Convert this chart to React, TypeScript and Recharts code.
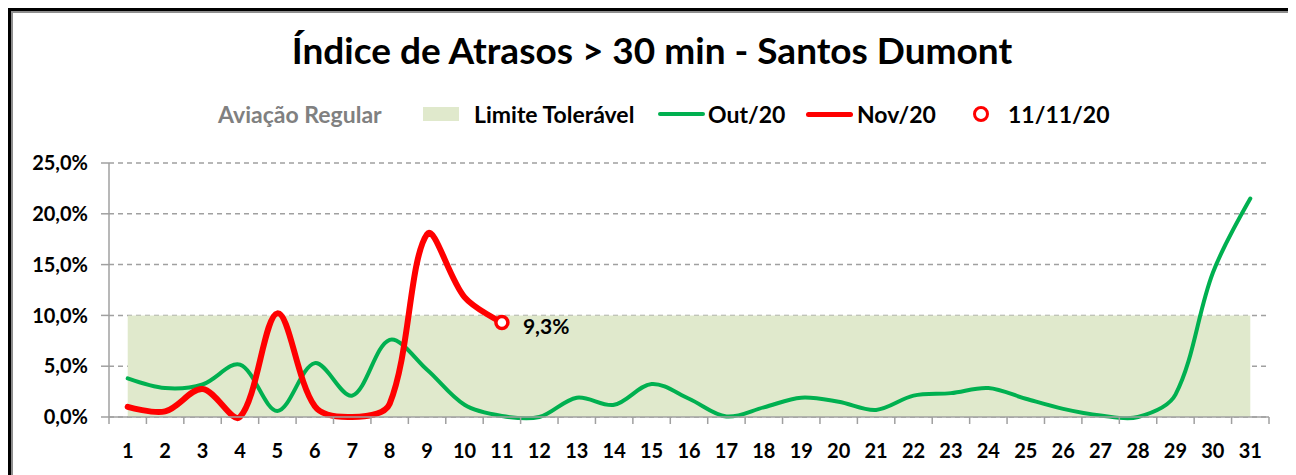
import { ComposedChart, Area, Line, XAxis, YAxis, CartesianGrid, LabelList } from 'recharts'

const days = ['1', '2', '3', '4', '5', '6', '7', '8', '9', '10', '11', '12', '13', '14', '15', '16', '17', '18', '19', '20', '21', '22', '23', '24', '25', '26', '27', '28', '29', '30', '31']
const out20 = [3.8, 2.85, 3.2, 5.15, 0.6, 5.3, 2.1, 7.6, 4.65, 1.2, 0.1, 0, 1.9, 1.2, 3.25, 1.8, 0.05, 0.95, 1.9, 1.5, 0.7, 2.1, 2.35, 2.85, 1.8, 0.8, 0.15, 0, 2.2, 14.2, 21.5]
const nov20 = [1.0, 0.55, 2.75, 0, 10.2, 1.05, 0, 1.3, 18.0, 11.8, 9.3]
const limiteToleravel = 10
const destaqueDia = 11
const destaqueValor = 9.3
const yTicks = [0, 5, 10, 15, 20, 25]

const FONT = 'Lato, sans-serif'
const GREEN = '#00B050'
const RED = '#FF0000'
const LIMIT_FILL = '#E0E9CC'
const AXIS = '#A0A0A0'

const data = days.map((d, i) => ({
  dia: d,
  limite: limiteToleravel,
  out: out20[i] ?? null,
  nov: nov20[i] ?? null,
  destaque: Number(d) === destaqueDia ? destaqueValor : null,
}))

const pct = (v: number) => `${v.toFixed(1).replace('.', ',')}%`

// smoothing close to Excel's: bezier through every point,
// handle length scaled by the neighbouring segment lengths
const excelCurve = (context: any) => {
  let pts: number[][] = []
  const dist = (a: number[], b: number[]) => Math.hypot(b[0] - a[0], b[1] - a[1]) || 1e-6
  return {
    areaStart() {},
    areaEnd() {},
    lineStart() { pts = [] },
    point(x: number, y: number) { pts.push([+x, +y]) },
    lineEnd() {
      if (!pts.length) return
      context.moveTo(pts[0][0], pts[0][1])
      for (let i = 0; i < pts.length - 1; i++) {
        const p0 = pts[i - 1] || pts[i]
        const p1 = pts[i]
        const p2 = pts[i + 1]
        const p3 = pts[i + 2] || p2
        const d01 = dist(p0, p1)
        const d12 = dist(p1, p2)
        const d23 = dist(p2, p3)
        const a = pts[i - 1] ? d12 / (d01 + d12) / 3 : 0
        const b = pts[i + 2] ? d12 / (d12 + d23) / 3 : 0
        context.bezierCurveTo(
          p1[0] + (p2[0] - p0[0]) * a, p1[1] + (p2[1] - p0[1]) * a,
          p2[0] - (p3[0] - p1[0]) * b, p2[1] - (p3[1] - p1[1]) * b,
          p2[0], p2[1],
        )
      }
    },
  }
}

function DayTick({ x, y, payload, index }: any) {
  const half = payload?.offset ?? 18.7
  return (
    <g>
      <line x1={x - half} x2={x - half} y1={y} y2={y + 7} stroke={AXIS} strokeWidth={1.5} />
      {index === days.length - 1 && (
        <line x1={x + half} x2={x + half} y1={y} y2={y + 7} stroke={AXIS} strokeWidth={1.5} />
      )}
      <text x={x} y={y + 33} textAnchor="middle" dominantBaseline="central"
        style={{ fontFamily: FONT, fontSize: 20, fontWeight: 700, fill: '#000' }}>
        {payload.value}
      </text>
    </g>
  )
}

function PointLabel({ x, y, value }: any) {
  if (value == null) return null
  return (
    <text x={x + 21} y={y + 3} dominantBaseline="central"
      style={{ fontFamily: FONT, fontSize: 21, fontWeight: 700, fill: '#000' }}>
      {pct(value)}
    </text>
  )
}

function LegendRow() {
  const txt = { fontFamily: FONT, fontSize: 23, fontWeight: 700, color: '#000', whiteSpace: 'nowrap' as const }
  const item = (left: number, child: any) => (
    <div style={{ position: 'absolute', left, top: 0, height: 24, display: 'flex', alignItems: 'center' }}>{child}</div>
  )
  return (
    <div style={{ position: 'absolute', top: 91, left: 0, width: '100%', height: 24 }}>
      {item(207, <span style={{ ...txt, color: '#808080' }}>Aviação Regular</span>)}
      {item(412, <span style={{ display: 'block', width: 36, height: 14, background: LIMIT_FILL }} />)}
      {item(463, <span style={txt}>Limite Tolerável</span>)}
      {item(647, <span style={{ display: 'block', width: 47, height: 4, borderRadius: 2, background: GREEN }} />)}
      {item(697, <span style={txt}>Out/20</span>)}
      {item(795, <span style={{ display: 'block', width: 47, height: 5, borderRadius: 3, background: RED }} />)}
      {item(846, <span style={txt}>Nov/20</span>)}
      {item(962, <span style={{ display: 'block', width: 10, height: 10, borderRadius: '50%', border: `3.5px solid ${RED}`, background: '#fff' }} />)}
      {item(997, <span style={txt}>11/11/20</span>)}
    </div>
  )
}

export default function App() {
  return (
    <div style={{
      position: 'relative',
      width: 1288,
      height: 475,
      boxSizing: 'border-box',
      border: '3px solid #000',
      boxShadow: 'inset 0 0 0 2px #8E8E8E',
      background: '#fff',
      overflow: 'hidden',
    }}>
      <div style={{
        position: 'absolute', top: 20, left: 0, width: '100%', textAlign: 'center',
        fontFamily: FONT, fontSize: 37, fontWeight: 700, lineHeight: 1, color: '#000',
      }}>
        Índice de Atrasos &gt; 30 min - Santos Dumont
      </div>
      <LegendRow />
      <ComposedChart width={1282} height={464} data={data} margin={{ top: 152, right: 24, left: 0, bottom: 28 }}>
        <Area dataKey="limite" type="linear" stroke="none" fill={LIMIT_FILL} fillOpacity={1} isAnimationActive={false} />
        <CartesianGrid vertical={false} stroke={AXIS} strokeWidth={1.5} strokeDasharray="5 4" />
        <XAxis dataKey="dia" scale="band" height={30} tickSize={0} tickMargin={0} tickLine={false}
          axisLine={{ stroke: AXIS, strokeWidth: 1.5 }} tick={<DayTick />} interval={0} />
        <YAxis width={98} domain={[0, 25]} ticks={yTicks} tickFormatter={pct} tickSize={8} tickMargin={13}
          axisLine={{ stroke: AXIS, strokeWidth: 1.5 }} tickLine={{ stroke: AXIS, strokeWidth: 1.5 }}
          tick={{ fontFamily: FONT, fontSize: 20, fontWeight: 700, fill: '#000' }} />
        <Line dataKey="out" type={excelCurve as any} stroke={GREEN} strokeWidth={4} dot={false}
          strokeLinecap="round" strokeLinejoin="round" isAnimationActive={false} />
        <Line dataKey="nov" type={excelCurve as any} stroke={RED} strokeWidth={6} dot={false}
          strokeLinecap="round" strokeLinejoin="round" isAnimationActive={false} />
        <Line dataKey="destaque" stroke="none" isAnimationActive={false}
          dot={{ r: 6, fill: '#fff', stroke: RED, strokeWidth: 3.5 }}>
          <LabelList dataKey="destaque" content={<PointLabel />} />
        </Line>
      </ComposedChart>
    </div>
  )
}
